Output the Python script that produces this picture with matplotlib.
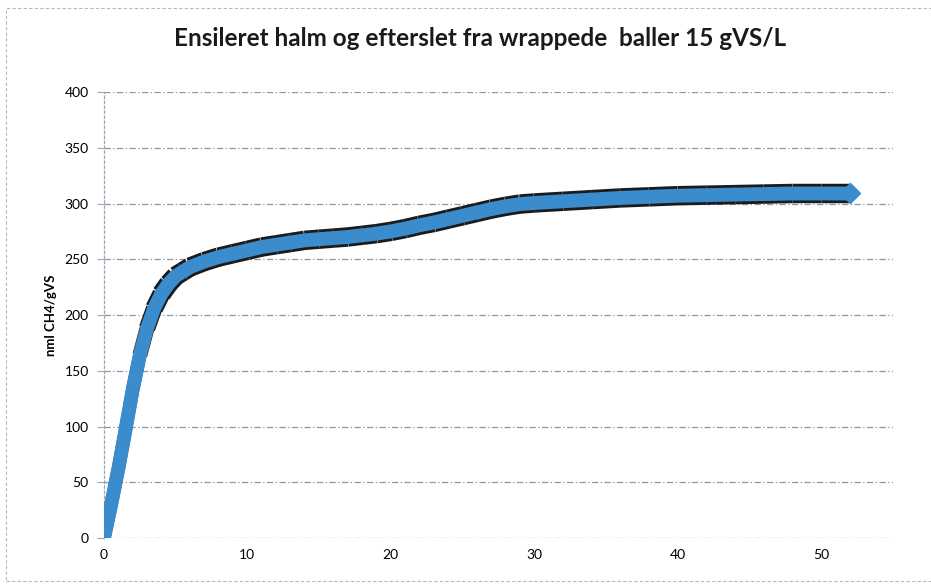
import numpy as np
import matplotlib.pyplot as plt
from matplotlib.patches import Rectangle
from matplotlib.collections import LineCollection

days = [0, 0.5, 1, 1.5, 2, 2.5, 3, 3.5, 4, 4.5, 5, 5.5, 6, 7, 8, 9, 10, 11,
        12, 13, 14, 15, 16, 17, 18, 19, 20, 21, 22, 23, 24, 25, 26, 27, 28,
        29, 30, 32, 34, 36, 38, 40, 42, 44, 46, 48, 50, 52]
ch4 = [0, 30, 62, 97, 133, 164, 188, 206, 219, 228, 235, 239, 243, 248, 252,
       255, 258, 261, 263, 265, 267, 268, 269, 270, 271.5, 273, 275, 277.5,
       280.5, 283, 286, 289, 292, 295, 297.5, 299.5, 300.5, 302, 303.5, 305,
       306, 307, 307.5, 308, 308.5, 309, 309, 309]

title = "Ensileret halm og efterslet fra wrappede  baller 15 gVS/L"
ylabel = "nml CH4/gVS"
yticks = [0, 50, 100, 150, 200, 250, 300, 350, 400]
xticks = [0, 10, 20, 30, 40, 50]

plt.rcParams['font.family'] = ['Lato', 'DejaVu Sans']

fig = plt.figure(figsize=(9.31, 5.85), dpi=100)
ax = fig.add_axes([0.1117, 0.0803, 0.8473, 0.7624])

blue = '#3a8ccd'
dark = '#1b1b1b'

pts = np.column_stack([days, ch4])
segs = np.stack([pts[:-1], pts[1:]], axis=1)
mid = (np.array(days[:-1]) + np.array(days[1:])) / 2

# dark band only shows once the curve starts to bend
dark_w = np.interp(mid, [2.2, 4.2], [9.5, 14])
ax.add_collection(LineCollection(segs, colors=dark, linewidths=dark_w,
                                 capstyle='butt', joinstyle='round', zorder=3))
ax.plot(days, ch4, color=blue, lw=10, solid_capstyle='round',
        solid_joinstyle='round', zorder=4)
ax.plot(days[-1], ch4[-1], ls='none', marker='D', markersize=10,
        color=blue, clip_on=False, zorder=5)

ax.set_xlim(0, 55)
ax.set_ylim(0, 400)
ax.set_xticks(xticks)
ax.set_yticks(yticks)
ax.tick_params(axis='x', length=0, pad=8, labelsize=10)
ax.tick_params(axis='y', length=5, width=0.8, color='#9aa6b4', pad=6, labelsize=10)

ax.grid(axis='y', color='#8a95a5', lw=0.9, ls=(0, (5, 2, 1, 2)))
for s in ['top', 'right', 'bottom']:
    ax.spines[s].set_visible(False)
ax.spines['left'].set_color('#9aa6b4')
ax.spines['left'].set_linestyle((0, (2, 2)))
ax.spines['left'].set_linewidth(0.9)

ax.set_ylabel(ylabel, fontsize=9.5, fontweight='bold')
ax.yaxis.set_label_coords(-0.06, 0.5)
fig.text(0.516, 0.935, title, ha='center', va='center', fontsize=17.5,
         fontweight='bold', color='#1a1a1a')

# frame of the scanned chart
fig.patches.append(Rectangle((6 / 931, 4 / 585), 930 / 931, 573 / 585,
                             transform=fig.transFigure, fill=False,
                             ec='#b0b8c4', lw=0.8, ls=(0, (3, 2))))

fig.savefig('out.png', dpi=100)
